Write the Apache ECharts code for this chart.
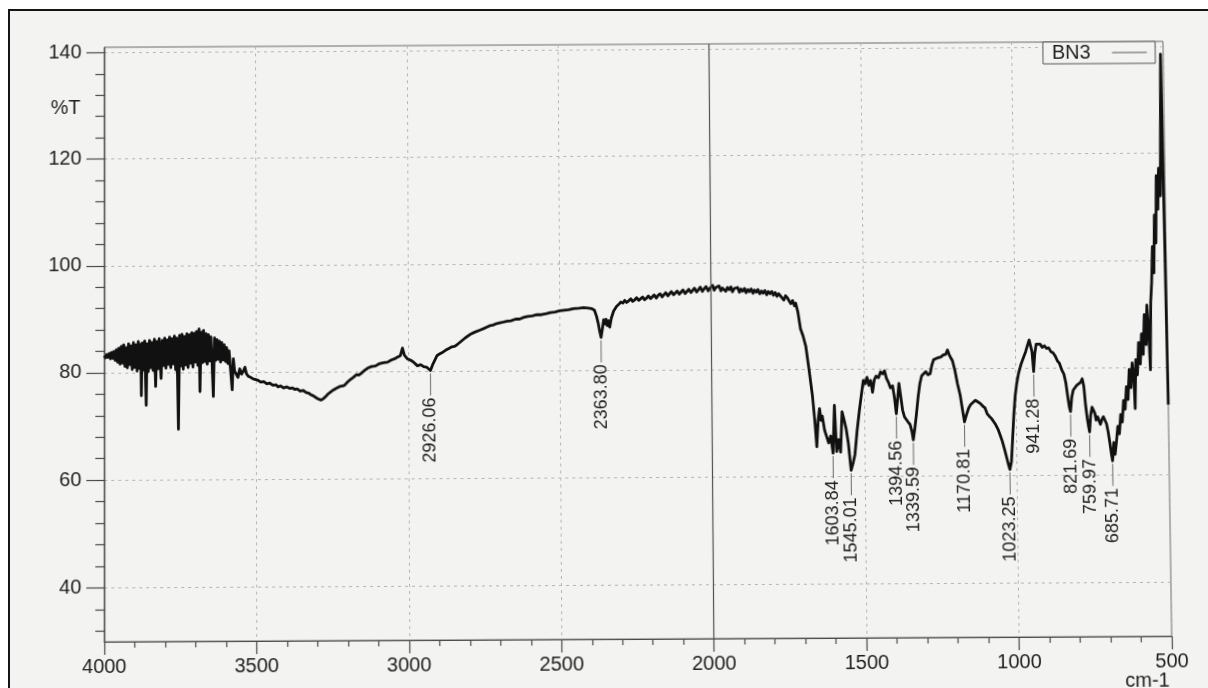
<!DOCTYPE html>
<html><head><meta charset="utf-8">
<script src="https://cdn.jsdelivr.net/npm/echarts@6/dist/echarts.min.js"></script>
<style>
html,body{margin:0;padding:0;background:#fff;overflow:hidden;width:1208px;height:688px;}
#frame{position:absolute;left:8px;top:9px;width:1210px;height:690px;border-left:2px solid #151515;border-top:2px solid #151515;background:#f3f3f1;}
#chart{position:absolute;left:0;top:0;width:1208px;height:700px;transform-origin:0 0;}
</style></head><body>
<div id="frame"></div><div id="chart"></div>
<script>
// ---- spectrum data [wavenumber cm-1, %T] ----
const regionA = [[4000,83.2],[3996,82.8],[3992,83.4],[3988,82.9],[3984,83.6],[3980,82.6],[3976,83.8],[3972,82.7],[3968,84.0],[3964,82.3],[3960,84.3],[3956,82.0],[3952,84.6],[3948,81.6],[3944,84.9],[3940,81.8],[3936,85.2],[3932,81.2],[3928,84.7],[3924,80.9],[3920,85.4],[3916,81.5],[3912,85.0],[3908,80.6],[3904,85.6],[3900,81.0],[3896,85.2],[3892,80.3],[3888,85.8],[3884,80.8],[3880,85.3],[3878,75.7],[3875,85.5],[3871,80.5],[3867,85.9],[3862,73.9],[3859,85.4],[3855,80.2],[3851,86.0],[3847,80.9],[3843,85.6],[3839,80.4],[3835,86.2],[3831,77.4],[3827,85.8],[3823,80.7],[3819,86.3],[3813,78.9],[3809,86.0],[3805,81.3],[3801,86.4],[3797,80.8],[3793,86.1],[3789,81.5],[3785,86.6],[3781,80.9],[3777,86.3],[3773,81.6],[3769,86.8],[3765,80.5],[3761,86.4],[3756,69.4],[3752,86.9],[3748,81.2],[3744,87.1],[3740,80.6],[3736,86.7],[3732,81.4],[3728,87.2],[3724,80.9],[3720,87.0],[3716,81.7],[3712,87.4],[3708,81.0],[3704,87.3],[3700,81.9],[3696,87.6],[3692,81.3],[3688,88.1],[3685,76.4],[3681,87.5],[3677,81.8],[3673,87.8],[3669,82.0],[3665,87.2],[3661,81.5],[3657,87.0],[3653,82.1],[3649,86.6],[3645,81.7],[3641,75.5],[3637,86.4],[3633,82.2],[3629,86.1],[3625,82.4],[3621,85.8],[3617,81.9],[3613,85.5],[3609,82.3],[3605,85.1],[3601,82.0],[3597,84.6],[3593,81.6],[3589,84.0],[3585,81.0],[3579,76.7],[3575,82.5],[3571,80.2]];
const regionB = [[3566,80.4],[3560,79.0],[3554,80.6],[3548,79.6],[3542,80.2],[3537,80.9],[3532,79.7],[3526,79.2],[3518,79.0],[3510,78.7],[3505,78.4],[3495,78.5],[3485,78.1],[3475,78.2],[3465,77.8],[3455,77.9],[3445,77.5],[3435,77.6],[3428,77.2],[3420,77.4],[3410,77.0],[3400,77.2],[3390,76.9],[3380,77.0],[3373,76.7],[3365,76.8],[3355,76.4],[3345,76.5],[3335,76.1],[3327,76.0],[3320,75.7],[3312,75.5],[3304,75.2],[3296,74.9],[3287,74.7],[3280,74.9],[3272,75.3],[3264,75.8],[3255,76.2],[3245,76.6],[3235,76.9],[3225,77.2],[3215,77.3],[3208,77.5],[3200,78.0],[3190,78.5],[3180,78.9],[3170,79.4],[3162,79.3],[3155,79.6],[3145,80.1],[3133,80.6],[3120,80.9],[3107,81.0],[3095,81.4],[3080,81.6],[3067,81.7],[3055,82.1],[3045,82.3],[3035,82.6],[3025,82.9],[3018,84.3],[3012,83.0],[3002,82.3],[2990,82.0],[2980,81.6],[2969,81.0],[2958,81.2],[2948,80.8],[2938,80.7],[2932,80.4],[2926.06,80.1],[2918,81.3],[2910,82.2],[2904,82.9],[2895,83.2],[2885,83.5],[2875,83.9],[2865,84.2],[2855,84.5],[2846,84.6],[2838,84.9],[2825,85.5],[2810,86.2],[2795,86.8],[2780,87.2],[2762,87.6],[2745,88.0],[2730,88.4],[2720,88.5],[2707,88.8],[2690,89.0],[2675,89.2],[2660,89.3],[2645,89.6],[2632,89.6],[2620,89.9],[2605,90.1],[2590,90.2],[2575,90.4],[2560,90.4],[2543,90.6],[2530,90.8],[2515,90.9],[2500,91.1],[2485,91.2],[2470,91.3],[2455,91.5],[2435,91.6],[2420,91.7],[2405,91.6],[2395,91.5],[2385,91.2],[2378,90.0],[2372,88.5],[2368,87.2],[2363.8,86.1],[2359,87.8],[2355,89.4],[2351,88.6],[2347,89.5],[2343,88.3],[2339,89.2],[2335,88.0],[2330,89.6],[2322,91.0],[2312,91.9]];
const regionC = [[2304,92.3],[2298,92.7],[2291,92.5],[2285,93.0],[2279,92.6],[2272,92.9],[2265,93.3],[2259,92.8],[2252,93.1],[2246,93.5],[2239,93.0],[2233,93.2],[2226,93.6],[2220,93.1],[2213,93.4],[2207,93.8],[2200,93.3],[2194,93.5],[2188,94.0],[2181,93.4],[2175,93.9],[2168,94.2],[2162,93.6],[2156,94.0],[2150,94.4],[2143,93.8],[2137,94.1],[2131,94.6],[2124,94.0],[2118,94.3],[2112,94.7],[2105,94.1],[2099,94.5],[2093,94.9],[2086,94.2],[2080,94.6],[2074,95.0],[2067,94.4],[2061,94.8],[2055,95.2],[2048,94.5],[2042,94.9],[2036,95.4],[2029,94.6],[2023,95.1],[2017,95.5],[2010,94.7],[2004,95.2],[2000,95.0],[1995,95.7],[1990,94.8],[1985,95.3],[1979,95.0],[1974,95.6],[1968,94.7],[1963,95.2],[1958,95.5],[1952,94.6],[1946,95.3],[1941,94.9],[1935,95.4],[1930,94.5],[1924,95.1],[1919,94.8],[1913,95.3],[1907,94.4],[1902,95.0],[1896,94.6],[1890,95.1],[1885,94.3],[1879,94.9],[1874,94.5],[1868,95.0],[1862,94.2],[1857,94.8],[1851,94.4],[1846,94.9],[1840,94.1],[1834,94.6],[1829,94.2],[1823,94.7],[1817,93.9],[1812,94.5],[1806,94.1],[1800,94.5],[1795,93.8],[1789,94.3],[1783,93.6],[1778,94.1],[1772,93.7],[1766,94.0],[1761,92.9],[1755,93.7],[1749,93.3],[1744,93.5],[1738,92.2],[1732,92.8],[1726,91.8]];
const regionD = [[1722,92.3],[1715,90.6],[1707,87.5],[1699,86.2],[1690,84.2],[1680,79.8],[1670,75.1],[1663,70.5],[1657,65.5],[1652,70.2],[1647,72.6],[1642,70.4],[1638,71.2],[1631,68.6],[1625,68.3],[1618,66.2],[1611,67.5],[1603.84,64.3],[1598,73.2],[1592,64.6],[1585,66.8],[1579,64.5],[1573,72.0],[1567,70.6],[1560,68.8],[1553,66.0],[1545.01,61.1],[1538,62.5],[1532,64.0],[1524,68.5],[1516,72.2],[1508,75.5],[1502,77.8],[1496,77.2],[1490,78.4],[1484,76.9],[1478,77.8],[1472,75.6],[1466,77.9],[1460,78.6],[1452,78.3],[1445,79.4],[1438,79.0],[1432,79.6],[1426,78.2],[1420,77.5],[1413,76.4],[1406,76.8],[1400,74.5],[1394.56,71.6],[1389,74.8],[1385,77.2],[1380,75.0],[1374,72.3],[1368,71.0],[1362,71.3],[1356,70.0],[1350,69.6],[1344,68.3],[1339.59,66.7],[1334,68.9],[1329,71.2],[1322,74.8],[1316,77.2],[1310,78.6],[1303,79.0],[1296,79.4],[1289,78.8],[1282,79.0],[1276,80.6],[1270,81.6],[1262,81.8],[1254,82.0],[1246,82.1],[1238,82.5],[1230,82.6],[1224,83.4],[1219,82.6],[1214,82.0],[1208,81.4],[1200,79.5],[1192,77.0],[1184,75.0],[1177,72.3],[1170.81,70.0],[1164,71.3],[1157,72.5],[1150,73.2],[1142,73.6],[1134,74.0],[1126,73.7],[1118,73.4],[1110,72.9],[1103,72.6],[1096,71.5],[1089,71.0],[1082,70.6],[1075,70.0],[1068,69.4],[1061,68.6],[1054,67.5],[1047,66.3],[1040,64.8],[1033,63.2],[1027,61.8],[1023.25,61.1],[1018,62.5],[1013,67.0],[1008,71.5],[1003,74.8],[998,76.9],[991,79.0],[983,80.6],[975,81.8],[967,83.0],[960,84.3],[955,85.2],[950,84.9],[946,83.0],[941.28,79.3],[937,82.6],[932,84.4],[926,84.1],[919,84.4],[912,83.8],[905,84.1],[898,83.6],[891,83.7],[884,83.0],[877,82.8],[870,82.2],[863,81.3],[856,80.8],[849,79.6],[842,78.8],[836,77.2],[830,74.5],[825,72.5],[821.69,71.8],[817,74.5],[812,75.8],[806,76.1],[800,76.7],[794,76.4],[788,77.2],[782,77.9],[777,76.5],[772,73.0],[767,70.5],[763,69.0],[759.97,68.0],[756,71.0],[751,72.6],[746,72.9],[742,71.5],[738,70.2],[733,70.8],[728,70.0],[724,69.4],[719,70.3],[714,70.8],[709,70.6],[704,69.5],[699,68.0],[694,66.0],[689,63.8],[685.71,62.6]];
const regionE = [[681,66.0],[677,63.8],[672,66.2],[667,69.0],[662,67.6],[657,71.2],[652,69.8],[647,73.8],[642,72.2],[637,76.4],[632,74.0],[627,79.6],[622,76.2],[617,80.8],[612,78.0],[609,72.3],[605,81.4],[600,78.6],[595,84.6],[590,80.6],[585,86.2],[580,82.4],[575,89.8],[570,84.2],[566,91.6],[561,86.4],[557,79.5],[553,92.2],[549,95.8],[545,102.5],[541,97.6],[537,108.4],[533,103.2],[529,115.8],[525,109.5],[521,117.2],[516,112.0],[509,138.6],[500,73.0]];

// ---- annotated peaks ----
const peakWn   = [2926.06, 2363.80, 1603.84, 1545.01, 1394.56, 1339.59, 1170.81, 1023.25, 941.28, 821.69, 759.97, 685.71];
const peakT    = [80.1, 86.1, 64.3, 61.1, 71.6, 66.7, 70.0, 61.1, 79.3, 71.8, 68.0, 62.6];
const peakText = ['2926.06','2363.80','1603.84','1545.01','1394.56','1339.59','1170.81','1023.25','941.28','821.69','759.97','685.71'];

// ---- axes ----
const yTickValues = [40, 60, 80, 100, 120, 140];
const xMin = 500, xMax = 4000, xInterval = 500;
const yMin = 30, yMax = 141;
const seriesName = 'BN3';

const spectrum = [].concat(regionA, regionB, regionC, regionD, regionE);
const peaks = peakWn.map((w, i) => [w, peakT[i]]);

const FONT = '"Liberation Sans", Arial, sans-serif';
function fontAvailable(name) {
  const c = document.createElement('canvas').getContext('2d');
  const s = '1603.84 abcmwi';
  c.font = '40px monospace'; const w0 = c.measureText(s).width;
  c.font = '40px "' + name + '", monospace'; const w1 = c.measureText(s).width;
  return Math.abs(w1 - w0) > 0.5;
}
const peakFont = fontAvailable('Liberation Sans Narrow') ? '22px "Liberation Sans Narrow"' : '18px "Liberation Sans"';

// perspective of the photographed page (layout only)
function homography(src, dst) {
  const A = [], b = [];
  for (let i = 0; i < 4; i++) {
    const [x, y] = src[i], [u, v] = dst[i];
    A.push([x, y, 1, 0, 0, 0, -u * x, -u * y]); b.push(u);
    A.push([0, 0, 0, x, y, 1, -v * x, -v * y]); b.push(v);
  }
  const n = 8;
  for (let c = 0; c < n; c++) {
    let p = c;
    for (let r = c + 1; r < n; r++) if (Math.abs(A[r][c]) > Math.abs(A[p][c])) p = r;
    [A[c], A[p]] = [A[p], A[c]]; [b[c], b[p]] = [b[p], b[c]];
    for (let r = 0; r < n; r++) {
      if (r === c) continue;
      const f = A[r][c] / A[c][c];
      for (let k = c; k < n; k++) A[r][k] -= f * A[c][k];
      b[r] -= f * b[c];
    }
  }
  return b.map((v, i) => v / A[i][i]);
}
const h = homography(
  [[104, 47], [1171, 47], [1171, 642], [104, 642]],
  [[104.3, 47.3], [1163, 41.4], [1171.7, 636.2], [104.3, 641.8]]
);
const el = document.getElementById('chart');
el.style.transform = 'matrix3d(' + [h[0], h[3], 0, h[6], h[1], h[4], 0, h[7], 0, 0, 1, 0, h[2], h[5], 0, 1].join(',') + ')';

const chart = echarts.init(el, null, { renderer: 'canvas' });
const axisColor = '#4a4a4a';
chart.setOption({
  animation: false,
  backgroundColor: 'transparent',
  grid: { left: 104, right: 37, top: 47, bottom: 58, show: true, borderColor: '#6a6a6a', borderWidth: 1, backgroundColor: 'transparent', outerBoundsMode: 'none' },
  legend: {
    data: [seriesName], top: 47, right: 45, align: 'right', orient: 'horizontal',
    itemWidth: 35, itemHeight: 20, padding: [1, 8, 1, 9],
    borderColor: '#555', borderWidth: 1, backgroundColor: '#f3f3f1', borderRadius: 0,
    formatter: name => name + '   ',
    textStyle: { fontSize: 20, color: '#1e1e1e', fontFamily: FONT },
    lineStyle: { color: '#555', width: 1 }, itemStyle: { opacity: 0 },
    selectedMode: false
  },
  xAxis: {
    type: 'value', min: xMin, max: xMax, interval: xInterval, inverse: true,
    axisLine: { show: true, lineStyle: { color: axisColor, width: 1.2 } },
    axisTick: { show: true, length: 13, lineStyle: { color: axisColor, width: 1.2 } },
    minorTick: { show: true, splitNumber: 5, length: 6, lineStyle: { color: axisColor, width: 1.2 } },
    axisLabel: { fontSize: 20, color: '#1e1e1e', fontFamily: FONT, margin: 15, showMinLabel: true, showMaxLabel: true,
      formatter: v => String(v) },
    splitLine: { show: true, lineStyle: { color: '#b5b5b5', width: 1, type: [3, 4] } }
  },
  yAxis: {
    type: 'value', min: yMin, max: yMax,
    axisLine: { show: true, lineStyle: { color: axisColor, width: 1.2 } },
    axisTick: { show: true, length: 18, customValues: yTickValues, lineStyle: { color: axisColor, width: 1.2 } },
    minorTick: { show: true, splitNumber: 5, length: 9, lineStyle: { color: axisColor, width: 1.2 } },
    axisLabel: { fontSize: 20, color: '#1e1e1e', fontFamily: FONT, margin: 23, customValues: yTickValues,
      formatter: v => (yTickValues.indexOf(v) >= 0 ? String(v) : '') },
    splitLine: { show: true, lineStyle: { color: '#b5b5b5', width: 1, type: [3, 4] } }
  },
  graphic: [
    { type: 'text', x: 50, y: 108, silent: true, style: { text: '%T', font: '20px ' + FONT, fill: '#1e1e1e', verticalAlign: 'middle' } },
    { type: 'text', x: 1124, y: 686, silent: true, style: { text: 'cm-1', font: '20px ' + FONT, fill: '#1e1e1e', verticalAlign: 'middle' } }
  ],
  series: [
    {
      name: seriesName, type: 'line', data: spectrum, symbol: 'none', showSymbol: false,
      lineStyle: { color: '#111', width: 2.8, join: 'round' }, itemStyle: { color: '#111' }, z: 3,
      markLine: { silent: true, symbol: ['none', 'none'], label: { show: false },
        lineStyle: { color: '#505050', type: 'solid', width: 1.2 }, data: [{ xAxis: 2000 }] }
    },
    {
      type: 'custom', data: peaks, z: 5, clip: false, silent: true,
      renderItem: (params, api) => {
        const p = api.coord([api.value(0), api.value(1)]);
        return { type: 'group', children: [
          { type: 'line', shape: { x1: p[0], y1: p[1] + 3, x2: p[0], y2: p[1] + 25 }, style: { stroke: '#6a6a6a', lineWidth: 1 } },
          { type: 'text', x: p[0], y: p[1] + 27, rotation: Math.PI / 2,
            style: { text: peakText[params.dataIndex], x: 0, y: 0, align: 'right', verticalAlign: 'middle', font: peakFont, fill: '#1e1e1e' } }
        ] };
      }
    }
  ]
});
</script></body></html>
